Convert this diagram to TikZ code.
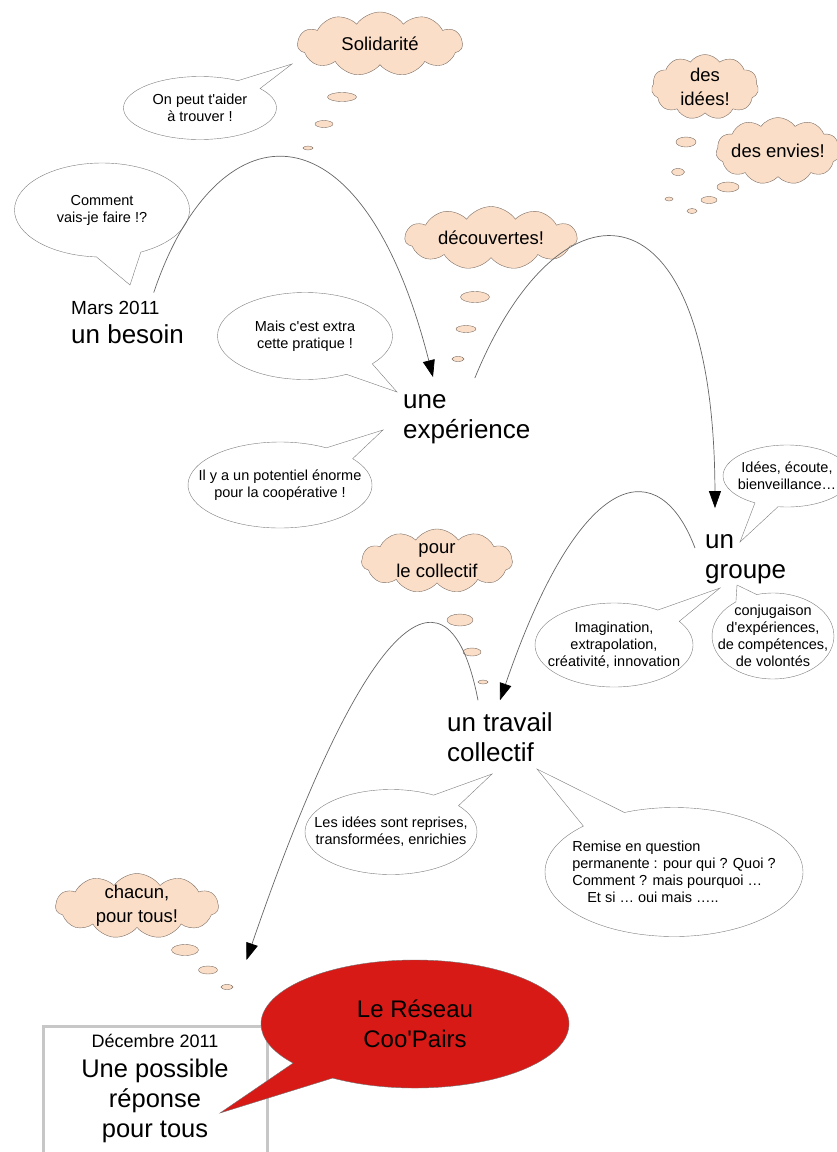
\documentclass[tikz,border=0pt]{standalone}
\usepackage{fontspec}
\setmainfont{Liberation Sans}
\usetikzlibrary{shapes.geometric, shapes.symbols, shapes.callouts, arrows.meta, positioning}

\definecolor{peach}{RGB}{250,222,200}
\definecolor{peachline}{RGB}{125,110,100}
\definecolor{bubbleline}{RGB}{125,125,125}
\definecolor{coored}{RGB}{216,26,23}

\begin{document}
\begin{tikzpicture} [x = 1pt, y = -1pt,
  thought/.style = {cloud, cloud puffs = 11, cloud puff arc = 110, cloud ignores aspect, draw = peachline, fill = peach, inner sep = -40pt, align = center, font = \fontsize{18.5}{24}\selectfont},
  puff/.style = {ellipse, draw = peachline, fill = peach, inner sep = 0pt},
  talk/.style = {ellipse callout, draw = bubbleline, fill = white, inner sep = -40pt, callout pointer arc = 22, align = center, font = \fontsize{14.5}{17}\selectfont},
  stage/.style = {inner sep = 0pt, align = left, font = \fontsize{26}{30}\selectfont},
  jump/.style = {draw = black!60, line width = .7pt, -{Triangle[length = 17pt, width = 12pt, color = black]}}]
\useasboundingbox (0,0) rectangle (836,1152);

% steps of the year
\node [stage, anchor = base west, font = \fontsize{19}{22}\selectfont] (mars) at (71,314) {Mars 2011};
\node [stage, anchor = base west] (besoin) at (71,343) {un besoin};
\node [stage, anchor = west] (exp) at (403,419) {une\\expérience};
\node [stage, anchor = west] (groupe) at (705,559) {un\\groupe};
\node [stage, anchor = west] (travail) at (447,737) {un travail\\collectif};

% thoughts
\node [thought, minimum width = 165pt, minimum height = 64pt] (solid) at (380,44) {Solidarité};
\node [puff, minimum width = 29pt, minimum height = 9pt] (solid1) at (342,97) {};
\node [puff, minimum width = 18pt, minimum height = 7pt] (solid2) at (324,124) {};
\node [puff, minimum width = 10pt, minimum height = 4pt] (solid3) at (308,148) {};

\node [thought, minimum width = 107pt, minimum height = 65pt] (idees) at (705,87) {des\\idées!};
\node [puff, minimum width = 20pt, minimum height = 10pt] (idees1) at (686,142) {};
\node [puff, minimum width = 13pt, minimum height = 7pt] (idees2) at (678,172) {};
\node [puff, minimum width = 8pt, minimum height = 4pt] (idees3) at (669,199) {};

\node [thought, minimum width = 124pt, minimum height = 67pt] (envies) at (778,151) {des envies!};
\node [puff, minimum width = 22pt, minimum height = 10pt] (envies1) at (728,187) {};
\node [puff, minimum width = 16pt, minimum height = 7pt] (envies2) at (709,200) {};
\node [puff, minimum width = 10pt, minimum height = 5pt] (envies3) at (692,211) {};

\node [thought, minimum width = 172pt, minimum height = 63pt] (decouv) at (491,238) {découvertes!};
\node [puff, minimum width = 29pt, minimum height = 11pt] (decouv1) at (475,297) {};
\node [puff, minimum width = 20pt, minimum height = 7pt] (decouv2) at (466,329) {};
\node [puff, minimum width = 12pt, minimum height = 5pt] (decouv3) at (458,359) {};

\node [thought, minimum width = 151pt, minimum height = 64pt] (collectif) at (437,561) {pour\\le collectif};
\node [puff, minimum width = 26pt, minimum height = 12pt] (collectif1) at (460,620) {};
\node [puff, minimum width = 18pt, minimum height = 8pt] (collectif2) at (472,652) {};
\node [puff, minimum width = 10pt, minimum height = 4pt] (collectif3) at (483,682) {};

\node [thought, minimum width = 163pt, minimum height = 65pt] (chacun) at (137,906) {chacun,\\pour tous!};
\node [puff, minimum width = 27pt, minimum height = 11pt] (chacun1) at (185,950) {};
\node [puff, minimum width = 19pt, minimum height = 8pt] (chacun2) at (208,970) {};
\node [puff, minimum width = 12pt, minimum height = 5pt] (chacun3) at (227,987) {};

% what people say
\coordinate (tAider) at (292,64);
\coordinate (tComment) at (130,285);
\coordinate (tExtra) at (397,392);
\coordinate (tPotentiel) at (383,430);
\coordinate (tEcoute) at (740,542);
\coordinate (tImagination) at (720,588);
\coordinate (tConjugaison) at (737,585);
\coordinate (tReprises) at (492,774);
\coordinate (tRemise) at (537,769);
\coordinate (tReseau) at (220,1113);

\node [talk, minimum width = 153pt, minimum height = 63pt, callout absolute pointer = (tAider)] (aider) at (200,108) {On peut t\textquotesingle aider\\à trouver !};
\node [talk, minimum width = 175pt, minimum height = 94pt, callout pointer arc = 30, callout absolute pointer = (tComment)] (comment) at (102,210) {Comment\\vais-je faire !?};
\node [talk, minimum width = 175pt, minimum height = 87pt, callout absolute pointer = (tExtra)] (extra) at (305,336) {Mais c\textquotesingle est extra\\cette pratique !};
\node [talk, minimum width = 184pt, minimum height = 86pt, callout absolute pointer = (tPotentiel)] (potentiel) at (280,485) {Il y a un potentiel énorme\\pour la coopérative !};
\node [talk, minimum width = 128pt, minimum height = 62pt, callout absolute pointer = (tEcoute)] (ecoute) at (787,476) {Idées, écoute,\\bienveillance…};
\node [talk, minimum width = 158pt, minimum height = 84pt, callout absolute pointer = (tImagination)] (imagination) at (614,645) {Imagination,\\extrapolation,\\créativité, innovation};
\node [talk, minimum width = 122pt, minimum height = 86pt, callout absolute pointer = (tConjugaison)] (conjugaison) at (773,636) {conjugaison\\d\textquotesingle expériences,\\de compétences,\\de volontés};
\node [talk, minimum width = 172pt, minimum height = 85pt, callout absolute pointer = (tReprises)] (reprises) at (391,832) {Les idées sont reprises,\\transformées, enrichies};
\node [talk, minimum width = 258pt, minimum height = 129pt, align = left, callout absolute pointer = (tRemise)] (remise) at (674,872) {Remise en question\\permanente : pour qui ? Quoi ?\\Comment ? mais pourquoi …\\\hspace{15pt}Et si … oui mais …..};

% the answer
\node [draw = black!22, line width = 3pt, minimum width = 224pt, minimum height = 170pt, anchor = north] (frame) at (155,1025) {};
\node [stage, align = center, font = \fontsize{25.5}{30}\selectfont, below = 9pt of frame.north] (reponse) {{\fontsize{18}{22}\selectfont Décembre 2011}\\Une possible\\réponse\\pour tous};
\node [talk, fill = coored, draw = black!55, text = black, minimum width = 308pt, minimum height = 128pt, callout pointer arc = 20, font = \fontsize{24}{30}\selectfont, callout absolute pointer = (tReseau)] (reseau) at (415,1024) {Le Réseau\\Coo\textquotesingle Pairs};

% the jumps
\draw [jump] ([shift = {(-6,-8)}]mars.north east) .. controls (215,110) and (360,90) .. ([shift = {(30,-17)}]exp.north west);
\draw [jump] ([shift = {(8,-16)}]exp.north) .. controls (560,170) and (714,175) .. ([shift = {(10,-26)}]groupe.north west);
\draw [jump] ([shift = {(-10,-11)}]groupe.west) .. controls (660,455) and (582,462) .. ([shift = {(53,-12)}]travail.north west);
\draw [jump] ([shift = {(31,-12)}]travail.north west) .. controls (450,555) and (370,600) .. ([shift = {(-22,-65)}]frame.north east);
\end{tikzpicture}
\end{document}
